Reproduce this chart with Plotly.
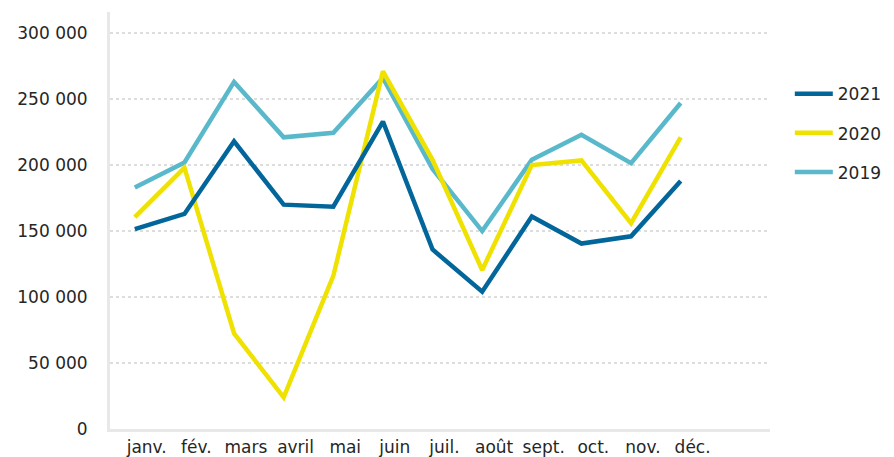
import plotly.graph_objects as go

months = ["janv.", "fév.", "mars", "avril", "mai", "juin", "juil.", "août", "sept.", "oct.", "nov.", "déc."]
v2021 = [151500, 163000, 218000, 170000, 168500, 233000, 136000, 104000, 161000, 140500, 146000, 188000]
v2020 = [160500, 198000, 72500, 24000, 116000, 271000, 204000, 120500, 200000, 203500, 156000, 221000]
v2019 = [183000, 202000, 263000, 221000, 224500, 266000, 197000, 150000, 204000, 223000, 201500, 247000]
y_ticks = [0, 50000, 100000, 150000, 200000, 250000, 300000]

x = list(range(len(months)))
tick_pos = [i + 0.24 for i in x]

fig = go.Figure()
series = [("2019", v2019, "#5ab8cb", 3), ("2020", v2020, "#efe100", 2), ("2021", v2021, "#02669b", 1)]
for name, vals, col, rank in series:
    fig.add_trace(go.Scatter(x=x, y=vals, mode="lines", name=name, legendgroup=name,
                             legendrank=rank, line=dict(color=col, width=4.5)))

fig.update_layout(
    width=886, height=449,
    margin=dict(l=102, r=124, t=4, b=28, autoexpand=False),
    paper_bgcolor="white", plot_bgcolor="white",
    separators=", ",
    font=dict(family="DejaVu Sans, sans-serif", size=17, color="#262626"),
    showlegend=True,
    legend=dict(x=1.03, y=0.846, xanchor="left", yanchor="top", traceorder="grouped",
                tracegroupgap=14, font=dict(size=17), itemwidth=38),
    xaxis=dict(range=[-0.5, 12.8], tickmode="array", tickvals=tick_pos, ticktext=months,
               showgrid=False, zeroline=False, showline=True, linecolor="#e8e8e8", linewidth=3,
               ticks="", ticklabelstandoff=1, automargin=False),
    yaxis=dict(range=[0, 316000], tickmode="array", tickvals=y_ticks, tickformat=",d",
               showgrid=True, gridcolor="#dddddd", griddash="dot", gridwidth=1.5,
               zeroline=False, showline=True, linecolor="#e8e8e8", linewidth=3,
               ticks="", ticklabelstandoff=16, automargin=False),
)

fig.write_html("out.html")
